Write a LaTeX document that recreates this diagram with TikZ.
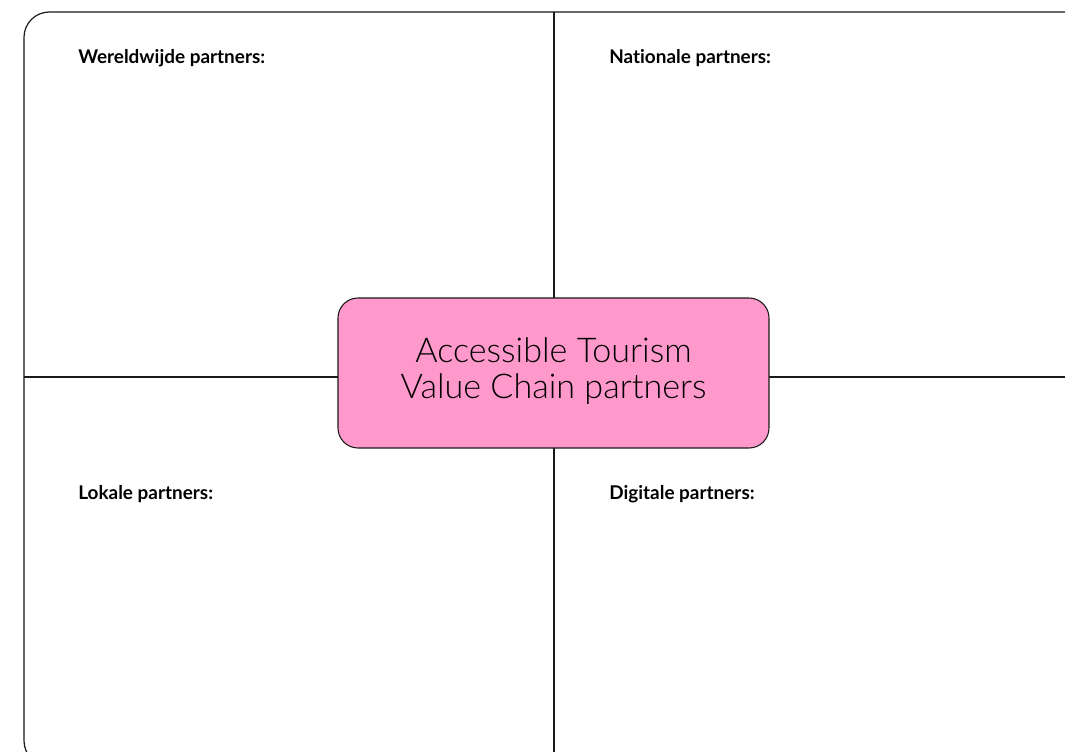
\documentclass[tikz,border=0pt]{standalone}
\usepackage{fontspec}
\setmainfont{Lato}[RawFeature=-liga]
\newfontfamily\lightfont{Lato Light}
\definecolor{boxpink}{HTML}{FF99CC}
\definecolor{linegray}{HTML}{1A1A1A}
\begin{document}
\begin{tikzpicture}[x=0.75pt,y=-0.75pt,
  frame/.style={draw=linegray,line width=0.9pt},
  divider/.style={draw=linegray,line width=0.8pt},
  centerbox/.style={draw=linegray,line width=0.8pt,fill=boxpink,rounded corners=15pt,
    minimum width=323.25pt,minimum height=112.5pt,
    font=\lightfont\fontsize{25.6}{27}\selectfont,inner sep=0pt},
  label/.style={anchor=base west,font=\bfseries\fontsize{14.2}{15}\selectfont,inner sep=0pt}]
\useasboundingbox (0,0) rectangle (1065,751);
\clip (0,0) rectangle (1065,751);
\fill[white] (0,0) rectangle (1065,751);
\draw[frame,rounded corners=19pt] (24,12) rectangle (1100,766);
\coordinate (vtop) at (554,12);
\coordinate (vbot) at (554,760);
\coordinate (hleft) at (24,377);
\coordinate (hright) at (1070,377);
\draw[divider] (vtop) -- (vbot);
\draw[divider] (hleft) -- (hright);
\node[centerbox] (core) at (553.5,373) {\raisebox{1.5pt}{\begin{tabular}{@{}c@{}}Accessible Tourism\\Value Chain partners\end{tabular}}};
\node[label] (ww) at (78,63) {Wereldwijde partners:};
\node[label] (nat) at (609,63) {Nationale partners:};
\node[label] (lok) at (78,499) {Lokale partners:};
\node[label] (dig) at (609,499) {Digitale partners:};
\end{tikzpicture}
\end{document}
